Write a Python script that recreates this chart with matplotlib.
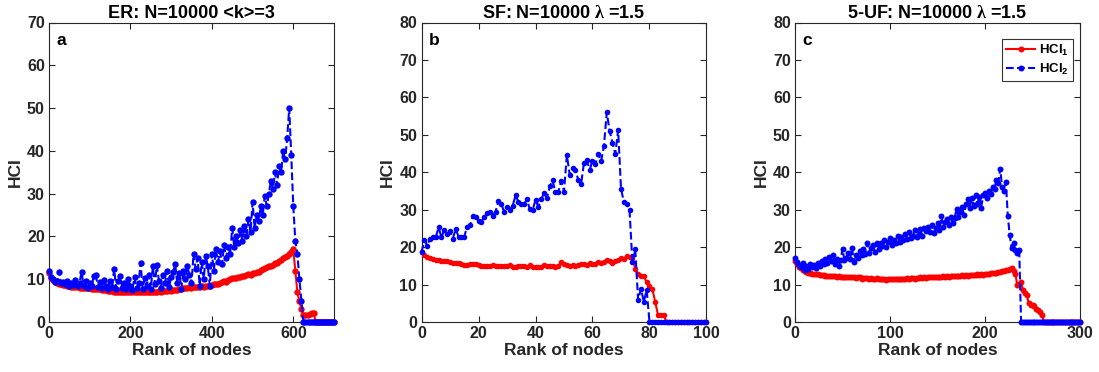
import numpy as np
import matplotlib
matplotlib.use("Agg")
import matplotlib.pyplot as plt

plt.rcParams['font.family'] = ['Liberation Sans', 'DejaVu Sans']
plt.rcParams['font.weight'] = 'bold'
plt.rcParams['mathtext.fontset'] = 'custom'
plt.rcParams['mathtext.rm'] = 'Liberation Serif'
plt.rcParams['mathtext.bf'] = 'Liberation Sans:bold'
plt.rcParams['mathtext.default'] = 'bf'

# ---------------- data ----------------
# Panel a (ER), ranks sampled every 5
rank_a = np.arange(0, 701, 5)
hci1_a = [11.5, 10.3, 9.8, 9.4, 9.1, 8.9, 8.8, 8.6, 8.6, 8.5,
          8.3, 8.2, 8.2, 8.1, 8.1, 8.0, 8.0, 8.0, 7.9, 7.9,
          7.9, 7.8, 7.8, 7.7, 7.7, 7.6, 7.5, 7.4, 7.4, 7.3,
          7.2, 7.2, 7.1, 7.1, 7.0, 7.0, 7.0, 7.0, 6.9, 6.9,
          6.9, 6.9, 6.9, 7.0, 7.0, 6.9, 6.9, 7.0, 7.0, 7.0,
          7.0, 7.1, 7.0, 7.1, 7.2, 7.1, 7.3, 7.2, 7.3, 7.4,
          7.3, 7.4, 7.5, 7.5, 7.6, 7.8, 7.9, 8.0, 8.0, 8.1,
          8.0, 8.1, 8.2, 8.1, 8.2, 8.3, 8.2, 8.4, 8.5, 8.4,
          8.7, 8.8, 8.9, 8.9, 9.1, 9.3, 9.5, 9.4, 9.8, 10.0,
          10.4, 10.2, 10.3, 10.5, 10.6, 10.8, 10.7, 11.0, 11.2, 11.1,
          11.4, 11.5, 11.8, 11.7, 12.1, 12.4, 12.6, 12.8, 13.0, 13.1,
          13.4, 13.7, 13.9, 14.3, 14.6, 14.9, 15.2, 15.5, 16.0, 16.4,
          17.0, 12.0, 7.0, 4.8, 3.0, 1.6, 1.6, 1.7, 1.8, 2.0,
          2.1, 0, 0, 0, 0, 0, 0, 0, 0, 0,
          0]
hci2_a = [12.0, 10.5, 10.0, 9.3, 9.5, 11.8, 9.0, 9.4, 8.8, 9.6,
          8.5, 9.0, 8.6, 9.8, 8.3, 9.2, 11.7, 8.5, 9.6, 8.0,
          9.1, 8.4, 10.8, 11.0, 8.2, 9.3, 8.0, 9.8, 8.5, 7.8,
          9.5, 8.2, 12.4, 7.8, 9.6, 10.8, 8.0, 9.2, 7.6, 10.0,
          8.4, 7.5, 10.5, 8.0, 9.0, 13.8, 7.8, 10.2, 8.5, 11.0,
          7.6, 13.0, 8.8, 13.3, 9.5, 8.0, 11.0, 9.0, 12.0, 8.2,
          10.5, 11.8, 13.5, 9.0, 11.5, 7.8, 12.0, 10.0, 13.0, 11.0,
          9.0, 16.0, 12.5, 15.0, 8.5, 14.0, 10.0, 15.5, 13.0, 8.5,
          16.0, 12.0, 17.0, 14.0, 16.5, 13.5, 18.0, 15.0, 17.5, 16.0,
          22.0, 17.5, 20.0, 18.5, 21.5, 19.0, 22.5, 20.0, 24.0, 21.0,
          28.0, 22.0, 25.0, 23.5, 27.0, 25.0, 29.5, 27.0, 30.0, 33.0,
          31.0, 35.0, 32.0, 36.5, 35.0, 40.0, 38.0, 43.0, 50.0, 39.0,
          27.0, 19.0, 16.0, 10.0, 5.0, 0, 0, 0, 0, 0,
          0, 0, 0, 0, 0, 0, 0, 0, 0, 0,
          0]

# Panel b (SF), every rank 0..100
rank_b = np.arange(0, 101)
hci1_b = [18.6, 18.0, 17.4, 17.0, 16.8, 16.6, 16.5, 16.4, 16.2, 16.2,
          16.0, 15.8, 15.8, 15.7, 15.6, 15.3, 15.3, 15.4, 15.5, 15.4,
          15.1, 15.0, 15.0, 15.0, 15.0, 15.2, 15.0, 14.9, 14.9, 14.9,
          14.9, 15.1, 14.8, 14.6, 14.9, 14.9, 15.0, 14.8, 15.1, 14.8,
          14.6, 14.6, 14.8, 15.1, 14.9, 15.0, 14.9, 14.8, 15.0, 16.0,
          15.5, 15.1, 15.0, 15.2, 14.9, 15.3, 15.4, 15.5, 15.2, 15.8,
          15.6, 15.6, 16.0, 15.8, 15.9, 16.5, 16.3, 15.8, 16.2, 16.6,
          17.0, 16.9, 17.6, 17.4, 17.2, 14.2, 12.8, 12.3, 12.3, 10.6,
          9.6, 8.8, 5.4, 1.8, 2.0, 1.8, 0, 0, 0, 0,
          0, 0, 0, 0, 0, 0, 0, 0, 0, 0,
          0]
hci2_b = [18.6, 21.9, 20.4, 22.3, 22.7, 22.6, 25.3, 22.6, 24.6, 23.6,
          24.2, 22.3, 24.8, 22.8, 22.8, 22.8, 25.5, 25.8, 28.2, 28.0,
          27.0, 26.8, 28.1, 29.2, 29.4, 28.3, 29.5, 32.3, 31.6, 29.4,
          30.7, 29.9, 31.1, 33.8, 32.1, 31.6, 31.4, 32.8, 30.1, 29.9,
          32.6, 30.8, 32.8, 34.4, 33.0, 36.2, 37.8, 34.6, 34.8, 37.6,
          34.8, 44.6, 39.3, 41.1, 40.7, 38.0, 36.9, 42.4, 43.3, 40.6,
          43.1, 42.2, 44.9, 42.9, 46.9, 56.0, 51.1, 47.9, 44.9, 51.3,
          35.6, 32.1, 31.6, 29.8, 15.9, 19.4, 5.9, 8.9, 5.4, 8.6,
          0, 0, 0, 0, 0, 0, 0, 0, 0, 0,
          0, 0, 0, 0, 0, 0, 0, 0, 0, 0,
          0]

# Panel c (5-UF), ranks sampled every 2
rank_c = np.arange(0, 301, 2)
hci1_c = [16.2, 15.5, 14.8, 14.3, 13.9, 13.6, 13.4, 13.2, 13.1, 12.9,
          12.8, 12.7, 12.7, 12.6, 12.5, 12.5, 12.4, 12.3, 12.3, 12.2,
          12.3, 12.2, 12.1, 12.2, 12.0, 12.1, 12.0, 12.0, 11.9, 12.0,
          11.9, 12.0, 11.8, 12.1, 11.9, 11.6, 11.8, 11.7, 11.8, 11.6,
          11.7, 11.6, 11.5, 11.7, 11.5, 11.6, 11.4, 11.5, 11.3, 11.5,
          11.6, 11.5, 11.6, 11.4, 11.6, 11.5, 11.4, 11.6, 11.5, 11.7,
          11.6, 11.7, 11.8, 11.6, 11.8, 11.7, 11.9, 11.8, 11.9, 11.8,
          12.0, 11.9, 12.0, 11.9, 12.1, 12.0, 12.1, 12.0, 12.2, 12.1,
          12.2, 12.1, 12.3, 12.2, 12.4, 12.3, 12.4, 12.3, 12.5, 12.4,
          12.5, 12.4, 12.6, 12.5, 12.6, 12.5, 12.7, 12.6, 12.7, 12.6,
          12.8, 12.8, 12.9, 13.0, 13.0, 13.2, 13.1, 13.3, 13.4, 13.5,
          13.6, 13.8, 14.0, 14.2, 14.4, 13.5, 12.8, 9.8, 10.2, 10.6,
          8.5, 7.7, 7.2, 5.0, 4.5, 4.5, 4.4, 3.6, 3.2, 2.8,
          1.8, 0, 0, 0, 0, 0, 0, 0, 0, 0,
          0, 0, 0, 0, 0, 0, 0, 0, 0, 0,
          0]
hci2_c = [17.2, 16.0, 15.2, 14.8, 15.8, 14.0, 15.0, 14.2, 15.6, 14.8,
          15.2, 14.5, 15.8, 15.0, 16.2, 15.4, 16.8, 15.8, 17.4, 16.2,
          17.8, 15.5, 16.8, 15.0, 16.5, 19.6, 16.5, 17.2, 18.5, 16.8,
          19.8, 16.0, 18.0, 17.2, 19.0, 18.0, 19.5, 18.2, 21.0, 18.5,
          19.8, 20.5, 18.8, 21.0, 19.5, 21.2, 20.2, 21.8, 20.0, 21.5,
          22.5, 20.5, 22.0, 21.2, 23.0, 21.5, 22.8, 21.8, 23.5, 22.2,
          24.0, 22.5, 23.0, 24.5, 22.8, 23.5, 24.8, 23.0, 25.0, 24.2,
          25.5, 24.0, 26.0, 23.8, 25.2, 26.5, 24.5, 28.2, 25.5, 26.8,
          27.5, 25.8, 28.0, 26.5, 27.8, 30.2, 28.0, 29.5, 30.8, 28.5,
          31.5, 32.8, 30.5, 33.0, 31.0, 34.0, 31.5, 33.5, 30.5, 33.8,
          34.5, 33.0, 35.0, 34.2, 36.0, 35.5, 38.0, 37.0, 41.0, 36.0,
          35.0, 37.3, 28.3, 23.3, 19.7, 21.0, 19.2, 18.5, 19.2, 0,
          0, 0, 0, 0, 0, 0, 0, 0, 0, 0,
          0, 0, 0, 0, 0, 0, 0, 0, 0, 0,
          0, 0, 0, 0, 0, 0, 0, 0, 0, 0,
          0]

titles = ['ER: N=10000 <k>=3', r'SF: N=10000 $\mathrm{\lambda}$ =1.5',
          r'5-UF: N=10000 $\mathrm{\lambda}$ =1.5']
letters = ['a', 'b', 'c']
xlims = [(0, 700), (0, 100), (0, 300)]
xticks = [[0, 200, 400, 600], [0, 20, 40, 60, 80, 100], [0, 100, 200, 300]]
ylims = [(0, 70), (0, 80), (0, 80)]
series = [(rank_a, hci1_a, hci2_a), (rank_b, hci1_b, hci2_b), (rank_c, hci1_c, hci2_c)]
msizes = [4.6, 4.0, 4.3]

# ---------------- figure ----------------
W, H = 1099, 372
fig = plt.figure(figsize=(W / 100, H / 100), dpi=100)
dark = '#262626'
lefts = [49, 421.5, 795]
ax_w, ax_h = 285, 299.5
bottom = 322

for i in range(3):
    ax = fig.add_axes([lefts[i] / W, (H - bottom) / H, ax_w / W, ax_h / H])
    x, y1, y2 = series[i]
    ax.plot(x, y1, '-', color='red', lw=1.5, marker='o', ms=msizes[i],
            markeredgewidth=0, label=r'HCI$_\mathbf{1}$', clip_on=False, zorder=3)
    ax.plot(x, y2, '--', color='blue', lw=1.5, marker='o', ms=msizes[i],
            markeredgewidth=0, label=r'HCI$_\mathbf{2}$', clip_on=False, zorder=4)
    ax.set_xlim(*xlims[i])
    ax.set_ylim(*ylims[i])
    ax.set_xticks(xticks[i])
    ax.set_yticks(np.arange(0, ylims[i][1] + 1, 10))
    ax.tick_params(direction='in', top=True, right=True, length=4,
                   width=0.8, colors=dark, labelsize=11.5, pad=3)
    for lab in ax.get_xticklabels() + ax.get_yticklabels():
        lab.set_fontweight('bold')
    for s in ax.spines.values():
        s.set_color(dark)
        s.set_linewidth(0.8)
    ax.set_title(titles[i], fontsize=13, fontweight='bold', color='black', pad=3)
    ax.set_xlabel('Rank of nodes', fontsize=12.5, fontweight='bold', color=dark, labelpad=1)
    ax.set_ylabel('HCI', fontsize=12.5, fontweight='bold', color=dark, labelpad=3)
    ax.text(0.025, 0.965, letters[i], transform=ax.transAxes, fontsize=12.5,
            fontweight='bold', va='top', ha='left', color='black')
    if i == 2:
        leg = ax.legend(loc='upper right', bbox_to_anchor=(1 - 7 / ax_w, 1 - 16 / ax_h),
                        fontsize=9.5, frameon=True, fancybox=False,
                        edgecolor='black', numpoints=1, handlelength=2.2,
                        borderpad=0.3, labelspacing=0.3, handletextpad=0.3,
                        borderaxespad=0.0)
        leg.get_frame().set_linewidth(0.8)
        for t in leg.get_texts():
            t.set_fontweight('bold')

fig.savefig('out.png', dpi=100)
